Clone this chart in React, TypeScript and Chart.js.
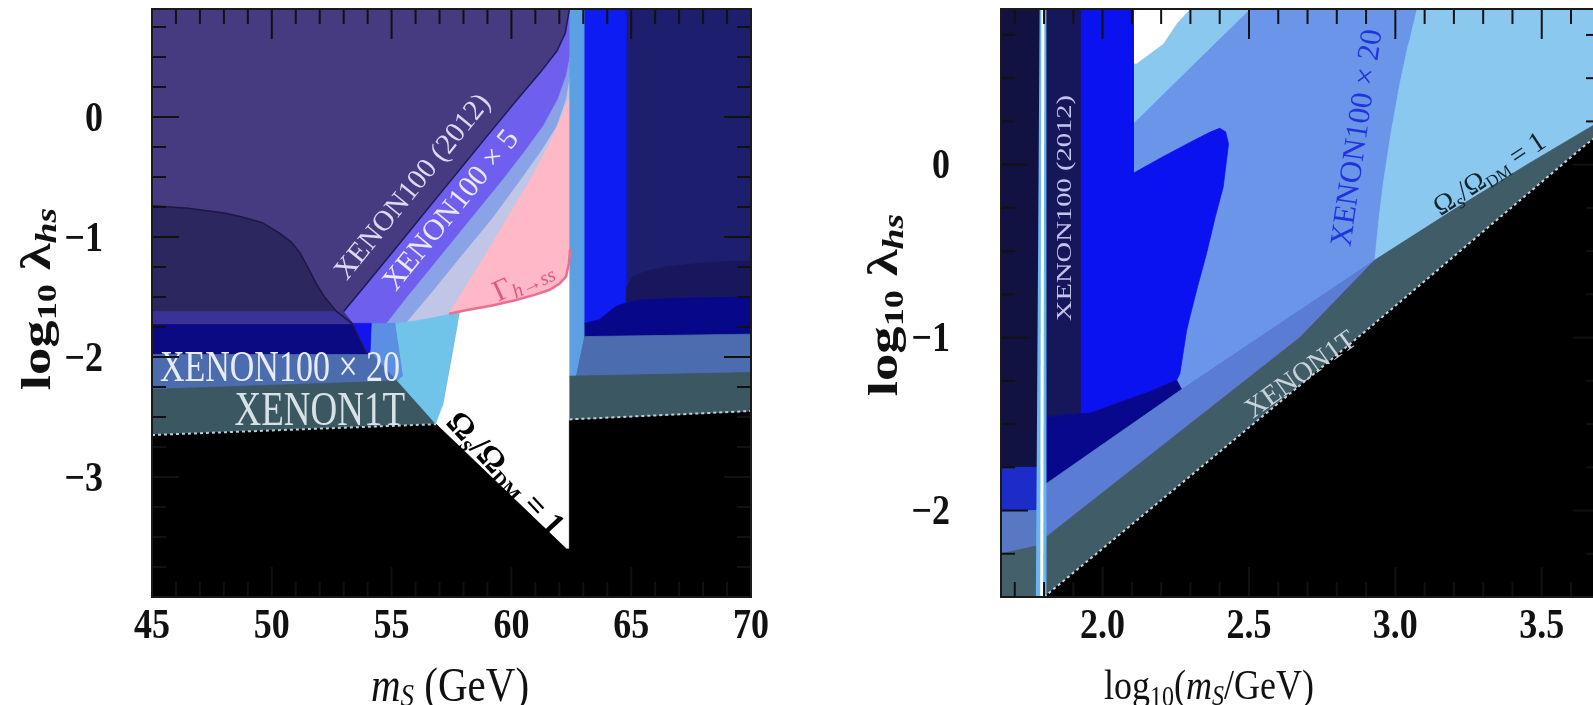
import React, { useEffect, useRef } from 'react';
import { Chart, registerables } from 'chart.js';

Chart.register(...registerables);

type P = [number, number];

// ================= LEFT PANEL (m_S in GeV) =================
const L_X_LABELS = [45, 50, 55, 60, 65, 70];
const L_X_MAJOR = [50, 55, 60, 65];
const L_X_MINOR = [46, 47, 48, 49, 51, 52, 53, 54, 56, 57, 58, 59, 61, 62, 63, 64, 66, 67, 68, 69];
const L_Y_LABELS = [0, -1, -2, -3];
const L_Y_MAJOR = [0, -1, -2, -3];
const L_Y_MINOR = [0.75, 0.5, 0.25, -0.25, -0.5, -0.75, -1.25, -1.5, -1.75, -2.25, -2.5, -2.75, -3.25, -3.5, -3.75];

// XENON100 (2012) boundary
const L_B1: P[] = [[53.0, -1.62], [54.0, -1.38], [55.0, -1.135], [56.0, -0.89], [57.0, -0.645], [58.0, -0.4], [59.0, -0.155], [60.26, 0.15], [61.2, 0.37], [61.9, 0.55], [62.25, 0.7], [62.42, 0.9]];
// XENON100 x 5 lower boundary
const L_B2: P[] = [[54.8, -1.72], [55.6, -1.515], [56.6, -1.27], [57.6, -1.025], [58.6, -0.78], [59.6, -0.535], [60.55, -0.29], [61.35, -0.07], [61.95, 0.15], [62.3, 0.35], [62.45, 0.5]];
const L_B3: P[] = [[55.6, -1.72], [56.7, -1.46], [58.0, -1.14], [59.2, -0.85], [60.3, -0.55], [61.2, -0.3], [61.9, -0.08], [62.3, 0.15], [62.45, 0.33]];
const L_B4: P[] = [[57.4, -1.64], [58.2, -1.38], [58.95, -1.14], [59.9, -0.82], [60.8, -0.52], [61.55, -0.24], [62.1, 0.0], [62.45, 0.18]];
const L_PINK_CURVE: P[] = [[57.4, -1.64], [58.1, -1.61], [59.2, -1.57], [60.2, -1.525], [61.0, -1.48], [61.6, -1.44], [62.0, -1.39], [62.28, -1.33], [62.4, -1.22], [62.45, -1.1]];

const L_PURPLE: P[] = [[45, 0.9], [62.45, 0.9], [62.45, -4], [45, -4]];
const L_NAVY_RIGHT: P[] = [[62.45, 0.9], [70, 0.9], [70, -4], [62.45, -4]];
const L_LOBE: P[] = [[45, -0.74], [46.5, -0.76], [48.0, -0.8], [48.67, -0.83], [49.6, -0.88], [50.33, -0.97], [50.8, -1.04], [51.17, -1.13], [51.5, -1.25], [51.86, -1.39], [52.2, -1.5], [52.7, -1.62], [45, -1.62]];
const L_BAND_A: P[] = [[45, -1.62], [53.5, -1.62], [53.5, -1.73], [45, -1.73]];
const L_BAND_B: P[] = [[45, -1.73], [54.6, -1.73], [54.6, -1.98], [45, -1.98]];
const L_BAND_C: P[] = [[45, -1.98], [54.5, -1.98], [55.25, -2.2], [45, -2.27]];
const L_BAND_D: P[] = [[45, -2.27], [55.25, -2.2], [56.86, -2.56], [45, -2.65]];
const L_VIOLET: P[] = [...L_B1, [62.45, 0.9], [62.45, -1.72], [53.4, -1.72]];
const L_PERI: P[] = [...L_B2, [62.45, -1.72]];
const L_LAV: P[] = [...L_B3, [62.45, -1.72]];
const L_PINK: P[] = [...L_B4, ...[...L_PINK_CURVE].reverse().slice(0, -1)];
const L_CORN: P[] = [[54.15, -1.72], [55.15, -1.72], [55.47, -2.16], [55.25, -2.2], [54.1, -1.95]];
const L_BRIGHT_TRI: P[] = [[53.35, -1.72], [54.15, -1.72], [54.1, -1.95], [53.95, -1.97]];
const L_CYAN: P[] = [[55.15, -1.72], [56.0, -1.7], [56.8, -1.67], [57.4, -1.645], [57.85, -1.625], [57.5, -2.0], [57.14, -2.41], [56.86, -2.56], [55.25, -2.2], [55.47, -2.16]];
const L_WHITE: P[] = [[57.85, -1.625], [58.1, -1.61], [59.2, -1.57], [60.2, -1.525], [61.0, -1.48], [61.6, -1.44], [62.0, -1.39], [62.28, -1.33], [62.4, -1.22], [62.45, -1.1], [62.45, -3.62], [62.28, -3.6], [56.86, -2.56], [57.14, -2.41]];
const L_BLACK: P[] = [[45, -4], [45, -2.65], [56.86, -2.56], [62.3, -3.6], [62.42, -3.6], [62.42, -2.52], [70, -2.45], [70, -4]];
const L_STRIP: P[] = [[62.42, 0.9], [63.05, 0.9], [63.05, -1.83], [62.7, -2.16], [62.42, -2.16]];
const L_BRIGHT: P[] = [[63.05, 0.9], [64.78, 0.9], [64.78, -1.55], [64.36, -1.58], [63.67, -1.69], [63.05, -1.72]];
const L_LOBE_R: P[] = [[64.78, -1.43], [65.06, -1.33], [65.7, -1.28], [66.45, -1.25], [67.8, -1.22], [69.2, -1.2], [70, -1.2], [70, -1.6], [64.78, -1.6]];
const L_DARK_R: P[] = [[63.05, -1.72], [63.67, -1.69], [64.36, -1.58], [64.78, -1.55], [65.33, -1.525], [67, -1.51], [69.9, -1.5], [70, -1.5], [70, -1.83], [63.05, -1.83]];
const L_STEEL_R: P[] = [[63.05, -1.83], [70, -1.81], [70, -2.13], [62.7, -2.16]];
const L_SLATE_R: P[] = [[62.42, -2.16], [70, -2.13], [70, -2.45], [62.42, -2.52]];
const L_DOT_1: P[] = [[45, -2.65], [56.86, -2.56]];
const L_DOT_2: P[] = [[62.42, -2.52], [70, -2.45]];
const L_LOBE_LINE: P[] = [[45, -0.74], [46.5, -0.76], [48.0, -0.8], [48.67, -0.83], [49.6, -0.88], [50.33, -0.97], [50.8, -1.04], [51.17, -1.13], [51.5, -1.25], [51.86, -1.39], [52.2, -1.5], [52.7, -1.62], [53.35, -1.72], [53.95, -1.97]];

// ================= RIGHT PANEL (log10 m_S) =================
const R_X_LABELS = [2.0, 2.5, 3.0, 3.5];
const R_X_MAJOR = [2.0, 2.5, 3.0, 3.5];
const R_X_MINOR = [1.7, 1.8, 1.9, 2.1, 2.2, 2.3, 2.4, 2.6, 2.7, 2.8, 2.9, 3.1, 3.2, 3.3, 3.4, 3.6];
const R_Y_LABELS = [0, -1, -2];
const R_Y_MAJOR = [0, -1, -2];
const R_Y_MINOR = [0.75, 0.5, 0.25, -0.25, -0.5, -0.75, -1.25, -1.5, -1.75, -2.25];

const R_BG: P[] = [[1.653, 0.9], [3.699, 0.9], [3.699, -2.5], [1.653, -2.5]];
const R_CYAN_RIGHT: P[] = [[3.073, 0.9], [3.699, 0.9], [3.699, 0.25], [3.45, 0.0], [3.2, -0.26], [2.93, -0.552], [2.945, -0.3], [2.959, -0.108], [2.985, 0.18], [3.016, 0.47], [3.045, 0.7]];
const R_CYAN_TOP: P[] = [[2.105, 0.9], [2.503, 0.9], [2.105, 0.24]];
const R_WHITE: P[] = [[2.105, 0.9], [2.298, 0.9], [2.253, 0.817], [2.207, 0.7], [2.116, 0.586], [2.105, 0.586]];
const R_BRIGHT: P[] = [[1.923, 0.9], [2.105, 0.9], [2.105, -0.05], [2.2, 0.04], [2.3, 0.13], [2.37, 0.19], [2.4, 0.21], [2.42, 0.19], [2.43, 0.12], [2.412, -0.128], [2.385, -0.3], [2.355, -0.513], [2.325, -0.7], [2.298, -0.88], [2.287, -0.957], [2.264, -1.207], [2.253, -1.246], [2.15, -1.32], [2.05, -1.38], [1.957, -1.438], [1.923, -1.44]];
const R_NAVY_LEFT: P[] = [[1.653, 0.9], [1.79, 0.9], [1.79, -1.75], [1.653, -1.75]];
const R_NAVY_MID: P[] = [[1.79, 0.9], [1.923, 0.9], [1.923, -1.44], [1.79, -1.46]];
const R_DARK: P[] = [[1.79, -1.46], [1.923, -1.44], [1.957, -1.438], [2.05, -1.38], [2.15, -1.32], [2.253, -1.246], [2.27, -1.3], [1.809, -1.843], [1.79, -1.86]];
const R_STEEL: P[] = [[1.653, -2.0], [1.809, -1.843], [2.27, -1.3], [2.93, -0.552], [2.674, -1.0], [2.253, -1.56], [1.81, -2.15], [1.653, -2.33]];
const R_SLATE: P[] = [[1.653, -2.33], [1.81, -2.15], [2.253, -1.56], [2.674, -1.0], [2.93, -0.552], [3.2, -0.26], [3.45, 0.0], [3.699, 0.25], [3.699, 0.18], [3.642, 0.104], [2.902, -0.957], [1.8, -2.5], [1.653, -2.5]];
const R_BLACK: P[] = [[1.8, -2.5], [2.902, -0.957], [3.642, 0.104], [3.699, 0.18], [3.699, -2.5]];
const R_LS_BLUE: P[] = [[1.653, -1.75], [1.79, -1.75], [1.79, -2.0], [1.653, -2.0]];
const R_LS_STEEL: P[] = [[1.653, -2.0], [1.79, -2.0], [1.79, -2.2], [1.653, -2.25]];
const R_LS_SLATE: P[] = [[1.653, -2.25], [1.79, -2.2], [1.79, -2.5], [1.653, -2.5]];
const R_RES_BAND: P[] = [[1.785, 0.9], [1.805, 0.9], [1.806, -2.5], [1.772, -2.5]];
const R_RES_LINE: P[] = [[1.796, 0.9], [1.792, -2.5]];
const R_DOT: P[] = [[1.8, -2.5], [2.902, -0.957], [3.642, 0.104], [3.699, 0.18]];

// ================= drawing helpers =================
interface Seg { t: string; size: number; bold?: boolean; italic?: boolean; dy?: number }
interface Region { pts: P[]; color: string }
interface LineSpec { pts: P[]; color: string; width: number; dash?: number[] }
interface Note { x: number; y: number; angle: number; segs: Seg[]; color: string; align?: string; k?: number }
interface Title { x: number; y: number; angle: number; k: number; segs: Seg[] }
interface PanelSpec {
  xMin: number; xMax: number; yMin: number; yMax: number;
  padding: { left: number; right: number; top: number; bottom: number };
  regions: Region[]; lines: LineSpec[];
  xMajor: number[]; xMinor: number[]; yMajor: number[]; yMinor: number[];
  xLabels: number[]; xFmt: (v: number) => string;
  yLabels: number[]; yFmt: (v: number) => string;
  yLabelGap: number; yLabelDy: number; xLabelY: number;
  titles: Title[]; notes: Note[];
}

const SERIF = '"Liberation Serif", "DejaVu Serif", serif';
const K = 1.3;
const KT = 1.15;

function segFont(s: Seg) {
  return `${s.italic ? 'italic ' : ''}${s.bold ? 'bold ' : ''}${s.size}px ${SERIF}`;
}

function drawSegs(ctx: CanvasRenderingContext2D, segs: Seg[], cx: number, cy: number, angleDeg: number, k: number, color: string, align = 'center') {
  ctx.save();
  ctx.translate(cx, cy);
  ctx.scale(1, k);
  const a = (angleDeg * Math.PI) / 180;
  ctx.rotate(Math.atan2(Math.sin(a), k * Math.cos(a)));
  let w = 0;
  for (const s of segs) { ctx.font = segFont(s); w += ctx.measureText(s.t).width; }
  let x = align === 'center' ? -w / 2 : align === 'right' ? -w : 0;
  ctx.fillStyle = color;
  ctx.textBaseline = 'middle';
  ctx.textAlign = 'left';
  for (const s of segs) {
    ctx.font = segFont(s);
    ctx.fillText(s.t, x, s.dy || 0);
    x += ctx.measureText(s.t).width;
  }
  ctx.restore();
}

function makeDecor(spec: PanelSpec) {
  return {
    id: 'decor',
    afterDraw(chart: any) {
      const ctx: CanvasRenderingContext2D = chart.ctx;
      const xs = chart.scales.x;
      const ys = chart.scales.y;
      const a = chart.chartArea;
      for (const n of spec.notes) {
        drawSegs(ctx, n.segs, xs.getPixelForValue(n.x), ys.getPixelForValue(n.y), n.angle, n.k ?? 1, n.color, n.align || 'center');
      }
      ctx.save();
      ctx.strokeStyle = '#111';
      ctx.lineWidth = 2;
      const seg = (x1: number, y1: number, x2: number, y2: number) => { ctx.beginPath(); ctx.moveTo(x1, y1); ctx.lineTo(x2, y2); ctx.stroke(); };
      const xt = (vals: number[], len: number) => vals.forEach(v => { const px = xs.getPixelForValue(v); seg(px, a.top, px, a.top + len); seg(px, a.bottom, px, a.bottom - len); });
      const yt = (vals: number[], len: number) => vals.forEach(v => { const py = ys.getPixelForValue(v); seg(a.left, py, a.left + len, py); seg(a.right, py, a.right - len, py); });
      xt(spec.xMajor, 30); xt(spec.xMinor, 15);
      yt(spec.yMajor, 27); yt(spec.yMinor, 14);
      ctx.strokeStyle = '#1a1a1a';
      ctx.lineWidth = 2;
      ctx.strokeRect(a.left, a.top, a.right - a.left, a.bottom - a.top);
      ctx.restore();
      const tf: Seg = { t: '', size: 36, bold: true };
      for (const v of spec.xLabels) drawSegs(ctx, [{ ...tf, t: spec.xFmt(v) }], xs.getPixelForValue(v), spec.xLabelY, 0, KT, '#111');
      for (const v of spec.yLabels) drawSegs(ctx, [{ ...tf, t: spec.yFmt(v) }], a.left - spec.yLabelGap, ys.getPixelForValue(v) + spec.yLabelDy, 0, KT, '#111', 'right');
      for (const t of spec.titles) drawSegs(ctx, t.segs, t.x, t.y, t.angle, t.k, '#111');
    },
  };
}

function buildConfig(spec: PanelSpec): any {
  const datasets: any[] = [];
  for (const r of spec.regions) {
    datasets.push({ data: r.pts.map(([x, y]) => ({ x, y })), backgroundColor: r.color, borderColor: r.color, borderWidth: 0.8, fill: 'shape', pointRadius: 0, tension: 0, clip: 0 });
  }
  for (const l of spec.lines) {
    datasets.push({ data: l.pts.map(([x, y]) => ({ x, y })), borderColor: l.color, backgroundColor: l.color, borderWidth: l.width, borderDash: l.dash || [], fill: false, pointRadius: 0, tension: 0, clip: 0 });
  }
  const n = datasets.length;
  datasets.forEach((d, i) => { d.order = n - i; });
  return {
    type: 'line',
    data: { datasets },
    options: {
      animation: false,
      responsive: false,
      devicePixelRatio: 1,
      events: [],
      layout: { padding: spec.padding },
      plugins: { legend: { display: false }, tooltip: { enabled: false } },
      scales: {
        x: { type: 'linear', min: spec.xMin, max: spec.xMax, display: false },
        y: { type: 'linear', min: spec.yMin, max: spec.yMax, display: false },
      },
    },
    plugins: [makeDecor(spec)],
  };
}

const minus = (v: number) => (v < 0 ? '\u2212' + String(-v) : String(v));

const yTitleSegs: Seg[] = [
  { t: 'log', size: 42, bold: true },
  { t: '10', size: 28, bold: true, dy: 10 },
  { t: ' \u03bb', size: 42, bold: true },
  { t: 'hs', size: 29, bold: true, italic: true, dy: 10 },
];

const LEFT_SPEC: PanelSpec = {
  xMin: 45, xMax: 70, yMin: -4, yMax: 0.9,
  padding: { left: 152, right: 49, top: 9, bottom: 108 },
  regions: [
    { pts: L_PURPLE, color: '#463a80' },
    { pts: L_NAVY_RIGHT, color: '#1e1e6e' },
    { pts: L_LOBE, color: '#2d2760' },
    { pts: L_BAND_A, color: '#3a3296' },
    { pts: L_BAND_B, color: '#0b0a82' },
    { pts: L_BAND_C, color: '#4b6cae' },
    { pts: L_BAND_D, color: '#3b5862' },
    { pts: L_VIOLET, color: '#6f5fee' },
    { pts: L_PERI, color: '#8aa2e6' },
    { pts: L_LAV, color: '#c2c6e6' },
    { pts: L_PINK, color: '#ffb8c6' },
    { pts: L_CORN, color: '#5a8fe4' },
    { pts: L_BRIGHT_TRI, color: '#1414f0' },
    { pts: L_CYAN, color: '#70c4ea' },
    { pts: L_WHITE, color: '#ffffff' },
    { pts: L_BLACK, color: '#000000' },
    { pts: L_STRIP, color: '#5aa0e2' },
    { pts: L_BRIGHT, color: '#0c1cf2' },
    { pts: L_LOBE_R, color: '#18175e' },
    { pts: L_DARK_R, color: '#07078a' },
    { pts: L_STEEL_R, color: '#4b6cae' },
    { pts: L_SLATE_R, color: '#3b5862' },
  ],
  lines: [
    { pts: L_LOBE_LINE, color: '#1c1846', width: 1.5 },
    { pts: L_B1, color: '#1c1a55', width: 1.5 },
    { pts: L_PINK_CURVE, color: '#ee6c8e', width: 2.5 },
    { pts: L_DOT_1, color: '#b8d0d8', width: 2, dash: [3, 3] },
    { pts: L_DOT_2, color: '#b8d0d8', width: 2, dash: [3, 3] },
  ],
  xMajor: L_X_MAJOR, xMinor: L_X_MINOR, yMajor: L_Y_MAJOR, yMinor: L_Y_MINOR,
  xLabels: L_X_LABELS, xFmt: v => String(v),
  yLabels: L_Y_LABELS, yFmt: minus,
  yLabelGap: 49, yLabelDy: 3, xLabelY: 627,
  titles: [
    { x: 39, y: 299, angle: -90, k: K, segs: yTitleSegs },
    { x: 450, y: 688, angle: 0, k: 1.2, segs: [{ t: 'm', size: 41, italic: true }, { t: 'S', size: 27, italic: true, dy: 8 }, { t: ' (GeV)', size: 41 }] },
  ],
  notes: [
    { x: 55.9, y: -0.585, angle: -51, color: '#dcd8f2', segs: [{ t: 'XENON100 (2012)', size: 29 }] },
    { x: 57.5, y: -0.78, angle: -51, color: '#ece8ff', segs: [{ t: 'XENON100 \u00d7 5', size: 30 }] },
    { x: 60.5, y: -1.37, angle: -25, color: '#e0587e', segs: [{ t: '\u0393', size: 30 }, { t: 'h\u2192ss', size: 20, italic: true, dy: 7 }] },
    { x: 45.33, y: -2.1, angle: 0, k: K, color: '#e8ecf8', align: 'left', segs: [{ t: 'XENON100 \u00d7 20', size: 34 }] },
    { x: 52.0, y: -2.46, angle: 0, k: K, color: '#d8e2e6', segs: [{ t: 'XENON1T', size: 37 }] },
    { x: 59.7, y: -2.98, angle: 47, color: '#000000', segs: [{ t: '\u03a9', size: 33, bold: true }, { t: 's', size: 23, bold: true, italic: true, dy: 8 }, { t: '/\u03a9', size: 33, bold: true }, { t: 'DM', size: 20, bold: true, dy: 8 }, { t: ' = 1', size: 33, bold: true }] },
  ],
};

const RIGHT_SPEC: PanelSpec = {
  xMin: 1.653, xMax: 3.699, yMin: -2.5, yMax: 0.9,
  padding: { left: 201, right: 0, top: 9, bottom: 108 },
  regions: [
    { pts: R_BG, color: '#6a95e8' },
    { pts: R_CYAN_RIGHT, color: '#8ac8f0' },
    { pts: R_CYAN_TOP, color: '#8ac8f0' },
    { pts: R_WHITE, color: '#ffffff' },
    { pts: R_BRIGHT, color: '#0a12f0' },
    { pts: R_NAVY_LEFT, color: '#111142' },
    { pts: R_NAVY_MID, color: '#16165a' },
    { pts: R_DARK, color: '#08088c' },
    { pts: R_STEEL, color: '#5a7cd2' },
    { pts: R_SLATE, color: '#405c66' },
    { pts: R_BLACK, color: '#000000' },
    { pts: R_LS_BLUE, color: '#1c2cc8' },
    { pts: R_LS_STEEL, color: '#5878c4' },
    { pts: R_LS_SLATE, color: '#44606a' },
    { pts: R_RES_BAND, color: '#6ab4f0' },
  ],
  lines: [
    { pts: R_RES_LINE, color: '#ffffff', width: 3 },
    { pts: R_DOT, color: '#c0d4dc', width: 2, dash: [3, 3] },
  ],
  xMajor: R_X_MAJOR, xMinor: R_X_MINOR, yMajor: R_Y_MAJOR, yMinor: R_Y_MINOR,
  xLabels: R_X_LABELS, xFmt: v => v.toFixed(1),
  yLabels: R_Y_LABELS, yFmt: minus,
  yLabelGap: 51, yLabelDy: 3, xLabelY: 627,
  titles: [
    { x: 86, y: 305, angle: -90, k: K, segs: yTitleSegs },
    { x: 409, y: 688, angle: 0, k: 1.2, segs: [{ t: 'log', size: 36 }, { t: '10', size: 24, dy: 9 }, { t: '(', size: 36 }, { t: 'm', size: 36, italic: true }, { t: 'S', size: 24, italic: true, dy: 8 }, { t: '/GeV)', size: 36 }] },
  ],
  notes: [
    { x: 1.871, y: -0.251, angle: -90, k: K, color: '#c4c4ee', segs: [{ t: 'XENON100 (2012)', size: 22 }] },
    { x: 2.872, y: 0.154, angle: -81.7, color: '#2233dd', segs: [{ t: 'XENON100 \u00d7 20', size: 31 }] },
    { x: 3.323, y: -0.06, angle: -33.4, color: '#15242a', segs: [{ t: '\u03a9', size: 28 }, { t: 's', size: 20, italic: true, dy: 7 }, { t: '/\u03a9', size: 28 }, { t: 'DM', size: 17, dy: 7 }, { t: ' = 1', size: 28 }] },
    { x: 2.678, y: -1.217, angle: -35.7, color: '#c8d2d8', segs: [{ t: 'XENON1T', size: 28 }] },
  ],
};

export default function App() {
  const leftRef = useRef<HTMLCanvasElement>(null);
  const rightRef = useRef<HTMLCanvasElement>(null);
  useEffect(() => {
    const c1 = new Chart(leftRef.current as HTMLCanvasElement, buildConfig(LEFT_SPEC));
    const c2 = new Chart(rightRef.current as HTMLCanvasElement, buildConfig(RIGHT_SPEC));
    return () => { c1.destroy(); c2.destroy(); };
  }, []);
  return (
    <div style={{ position: 'fixed', left: 0, top: 0, width: 1593, height: 705, overflow: 'hidden', background: '#ffffff' }}>
      <canvas ref={leftRef} width={800} height={705} style={{ position: 'absolute', left: 0, top: 0, width: 800, height: 705 }} />
      <canvas ref={rightRef} width={800} height={705} style={{ position: 'absolute', left: 800, top: 0, width: 800, height: 705 }} />
    </div>
  );
}
